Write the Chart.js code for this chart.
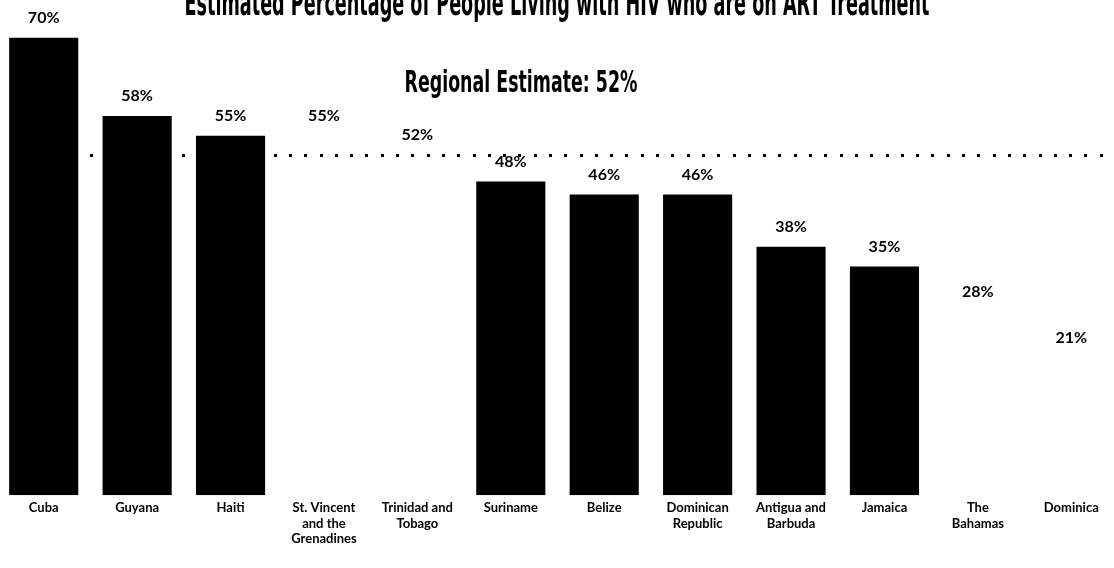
<!DOCTYPE html>
<html>
<head>
<meta charset="utf-8">
<script src="https://cdn.jsdelivr.net/npm/chart.js@4.4.1/dist/chart.umd.min.js"></script>
<style>
  html, body { margin: 0; padding: 0; background: #fff; overflow: hidden; }
  #wrap { position: absolute; left: -3px; top: 0; width: 1121px; height: 568px; }
</style>
</head>
<body>
<div id="wrap"><canvas id="chart"></canvas></div>
<script>
// Data
const countries = [
    'Cuba', 'Guyana', 'Haiti', ['St. Vincent', 'and the', 'Grenadines'], ['Trinidad and', 'Tobago'],
    'Suriname', 'Belize', ['Dominican', 'Republic'], ['Antigua and', 'Barbuda'], 'Jamaica',
    ['The', 'Bahamas'], 'Dominica'
];
const artPercent = [70, 58, 55, 55, 52, 48, 46, 46, 38, 35, 28, 21];
const regionalEstimate = 52;
const chartTitle = 'Estimated Percentage of People Living with HIV who are on ART Treatment';
const regionalLabel = 'Regional Estimate: 52%';

// bars that are drawn in white in the original (no visible bar)
const whiteBars = [3, 4, 10, 11];
const barColors = artPercent.map((v, i) => whiteBars.includes(i) ? '#ffffff' : '#000000');

const labelFont = 'Lato, "Open Sans", sans-serif';
const titleFont = '"Liberation Sans Narrow", "DejaVu Sans Condensed", sans-serif';

// Stippellijn voor het regionale gemiddelde
const regionalLine = {
    id: 'regionalLine',
    afterDatasetsDraw(chart) {
        const ctx = chart.ctx;
        const y = chart.scales.y.getPixelForValue(regionalEstimate);
        ctx.save();
        ctx.fillStyle = '#000';
        for (let x = 93; x < chart.width; x += 15.3) {
            ctx.fillRect(Math.round(x), Math.round(y) - 1, 3, 3);
        }
        ctx.restore();
    }
};

// Waardelabels boven de balken en titels
const labelsAndTitles = {
    id: 'labelsAndTitles',
    afterDatasetsDraw(chart) {
        const ctx = chart.ctx;
        const meta = chart.getDatasetMeta(0);
        ctx.save();
        ctx.fillStyle = '#000';
        ctx.textAlign = 'center';
        ctx.textBaseline = 'middle';
        ctx.font = 'bold 16px ' + labelFont;
        meta.data.forEach((bar, i) => {
            ctx.fillText(artPercent[i] + '%', bar.x, bar.y - 20);
        });

        ctx.textBaseline = 'alphabetic';
        ctx.font = 'bold 36px ' + titleFont;
        ctx.fillText(chartTitle, 560, 15, 745);
        ctx.font = 'bold 31px ' + titleFont;
        ctx.fillText(regionalLabel, 524, 92, 233);
        ctx.restore();
    }
};

new Chart(document.getElementById('chart').getContext('2d'), {
    type: 'bar',
    data: {
        labels: countries,
        datasets: [{
            data: artPercent,
            backgroundColor: barColors,
            borderWidth: 0,
            categoryPercentage: 1,
            barPercentage: 0.74,
        }],
    },
    options: {
        responsive: true,
        maintainAspectRatio: false,
        animation: false,
        layout: { padding: { top: 5, bottom: 16, left: 0, right: 0 } },
        plugins: {
            legend: { display: false },
            title: { display: false },
            tooltip: { enabled: false },
        },
        scales: {
            x: {
                grid: { display: false, drawTicks: false },
                border: { display: false },
                ticks: {
                    color: '#000',
                    font: { family: labelFont, weight: 'bold', size: 13, lineHeight: 1.2 },
                    padding: 5,
                    maxRotation: 0,
                    autoSkip: false,
                },
            },
            y: {
                display: false,
                min: 0,
                max: 75,
            },
        },
    },
    plugins: [regionalLine, labelsAndTitles],
});
</script>
</body>
</html>
